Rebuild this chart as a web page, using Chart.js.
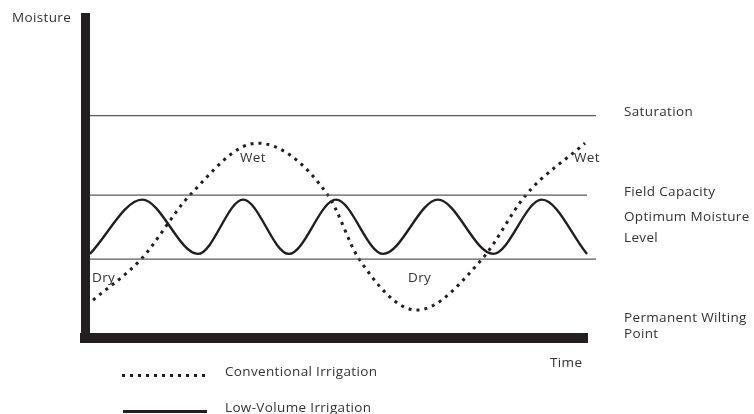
<!DOCTYPE html>
<html>
<head>
<meta charset="utf-8">
<title>Moisture vs Time</title>
<script src="https://cdn.jsdelivr.net/npm/chart.js@4"></script>
<style>
  html, body { margin: 0; padding: 0; background: #fff; }
  #wrap { position: relative; width: 754px; height: 414px; overflow: hidden; }
  #chart { position: absolute; left: 0; top: 0; }
  .lbl { position: absolute; font: 13.5px "Open Sans", sans-serif; line-height: 16px;
         letter-spacing: 0.35px; color: #333; white-space: nowrap; }
  .key { position: absolute; height: 3px; }
  .key.dots { background: linear-gradient(to right, #231f20 3px, transparent 3px) 0 0 / 8px 3px repeat-x; }
  .key.solid { background: #231f20; }
</style>
</head>
<body>
<div id="wrap">
  <canvas id="chart" width="754" height="414"></canvas>

  <span class="lbl" style="left:12px;top:9px">Moisture</span>
  <span class="lbl" style="left:624px;top:103px">Saturation</span>
  <span class="lbl" style="left:624px;top:183px">Field Capacity</span>
  <span class="lbl" style="left:624px;top:208px">Optimum Moisture</span>
  <span class="lbl" style="left:624px;top:229px">Level</span>
  <span class="lbl" style="left:624px;top:309px">Permanent Wilting</span>
  <span class="lbl" style="left:624px;top:325px">Point</span>
  <span class="lbl" style="left:550px;top:354px">Time</span>

  <span class="lbl" style="left:240px;top:149px">Wet</span>
  <span class="lbl" style="left:574px;top:149px">Wet</span>
  <span class="lbl" style="left:92px;top:269px">Dry</span>
  <span class="lbl" style="left:408px;top:269px">Dry</span>

  <div class="key dots" style="left:122px;top:374px;width:83px"></div>
  <span class="lbl" style="left:225px;top:363px">Conventional Irrigation</span>
  <div class="key solid" style="left:123px;top:410px;width:84px"></div>
  <span class="lbl" style="left:225px;top:399px">Low-Volume Irrigation</span>
</div>

<script>
// 値は図から読み取り (x: 時間 0-100, y: 水分 0-100)
var lowVolX = [1.0, 11.4, 22.5, 31.5, 40.6, 50.0, 59.4, 70.3, 81.3, 91.0, 100.0];
var lowVolY = [26.2, 43.1, 26.2, 43.1, 26.2, 43.1, 26.2, 43.1, 26.2, 43.1, 26.2];

var convX = [1.6, 11.2, 20.9, 34.3, 48.4, 54.6, 66.1, 79.1, 87.8, 99.6];
var convY = [11.8, 24.6, 44.5, 60.7, 44.5, 24.6, 8.7, 24.6, 44.5, 60.7];

// 基準線: 名前, 水分値, 始点x, 終点x
var levelNames = ["Saturation", "Field Capacity", "Optimum Lower"];
var levelY = [69.3, 44.5, 24.6];
var levelX0 = [1.0, 1.0, 1.0];
var levelX1 = [101.8, 100.0, 101.8];

var INK = "#231f20";

function pts(xs, ys) {
  return xs.map(function (x, i) { return { x: x, y: ys[i] }; });
}

var datasets = levelNames.map(function (n, i) {
  return {
    label: n,
    data: [{ x: levelX0[i], y: levelY[i] }, { x: levelX1[i], y: levelY[i] }],
    borderColor: "#5a5a5a", borderWidth: 1.2, pointRadius: 0, clip: false
  };
});
datasets.push({
  label: "Conventional Irrigation",
  data: pts(convX, convY),
  borderColor: INK, borderWidth: 3, borderDash: [3, 5], borderCapStyle: "butt",
  cubicInterpolationMode: "monotone", pointRadius: 0, clip: false
});
datasets.push({
  label: "Low-Volume Irrigation",
  data: pts(lowVolX, lowVolY),
  borderColor: INK, borderWidth: 2.4,
  cubicInterpolationMode: "monotone", pointRadius: 0, clip: false
});

function axis(width) {
  return {
    type: "linear", min: 0, max: 100,
    ticks: { display: false },
    grid: { display: true, drawTicks: false, color: "rgba(0,0,0,0)" },
    border: { display: true, width: width, color: INK }
  };
}

new Chart(document.getElementById("chart"), {
  type: "line",
  data: { datasets: datasets },
  options: {
    responsive: false,
    animation: false,
    devicePixelRatio: 1,
    layout: { padding: { left: 85, top: 17, right: 167, bottom: 76 } },
    plugins: { legend: { display: false }, tooltip: { enabled: false } },
    scales: { x: axis(10), y: axis(9) }
  }
});
</script>
</body>
</html>
